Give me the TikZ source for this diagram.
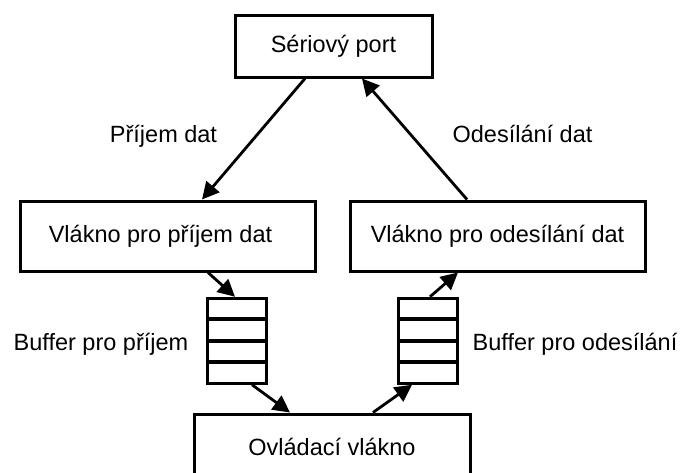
\documentclass[tikz,border=0pt]{standalone}
\usepackage{fontspec}
\setmainfont{Liberation Sans}
\usetikzlibrary{arrows.meta,positioning}
\tikzset{
BOX/.style ={draw=black,line width=3pt,inner sep=0pt,font=\fontsize{23.5}{28}\selectfont},
CELL/.style ={draw=black,line width=3pt,inner sep=0pt,minimum width=59pt,minimum height=20.5pt},
LINK/.style ={draw=black,line width=2.8pt,-{Triangle[length=17pt,width=17pt]}},
TEXT/.style ={font=\fontsize{23.5}{28}\selectfont,inner sep=0pt,anchor=base},
}
\begin{document}
\begin{tikzpicture}
[x=1pt,y=-1pt]
	\useasboundingbox (0,0) rectangle (680,472);
	\clip (0,0) rectangle (680,472); %bottom box runs off the page
	%Threads
	\node[BOX,minimum width=197pt,minimum height=62pt] (port) at (333.5,46) {Sériový port};
	\node[BOX,minimum width=295pt,minimum height=70pt] (rx) at (167.5,236) {Vlákno pro příjem dat\hspace*{14pt}};
	\node[BOX,minimum width=295pt,minimum height=70pt] (tx) at (497.5,236) {Vlákno pro odesílání dat};
	\node[BOX,minimum width=276pt,minimum height=66pt] (ctrl) at (332,447) {Ovládací vlákno};
	%Buffers
	\node[CELL] (inA) at (236.5,308.5) {};
	\node[CELL,below=-2pt of inA] (inB) {};
	\node[CELL,below=-2pt of inB] (inC) {};
	\node[CELL,below=-2pt of inC] (inD) {};
	\node[CELL] (outA) at (427.5,308.5) {};
	\node[CELL,below=-2pt of outA] (outB) {};
	\node[CELL,below=-2pt of outB] (outC) {};
	\node[CELL,below=-2pt of outC] (outD) {};
	%Data flow
	\path[LINK] ([xshift=-28.5pt]port.south) -- ([xshift=34.5pt]rx.north);
	\path[LINK] ([xshift=40.5pt]rx.south) -- ([xshift=-1.5pt]inA.north);
	\path[LINK] ([xshift=15.5pt]inD.south) -- ([xshift=-42pt]ctrl.north);
	\path[LINK] ([xshift=41pt]ctrl.north) -- ([xshift=-15.5pt]outD.south);
	\path[LINK] ([xshift=2.5pt]outA.north) -- ([xshift=-39.5pt]tx.south);
	\path[LINK] ([xshift=-30.5pt]tx.north) -- ([xshift=28.5pt]port.south);
	%Labels
	\node[TEXT] (rxlabel) at (163.5,142) {Příjem dat};
	\node[TEXT] (txlabel) at (522.5,142) {Odesílání dat};
	\node[TEXT] (inlabel) at (101,350) {Buffer pro příjem};
	\node[TEXT] (outlabel) at (575,350) {Buffer pro odesílání};
\end{tikzpicture}
\end{document}
